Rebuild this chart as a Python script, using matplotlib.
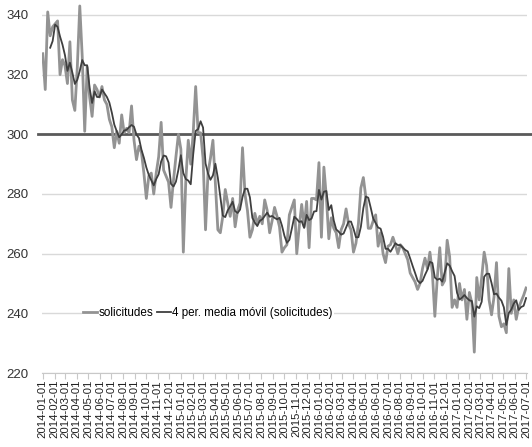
import numpy as np
import pandas as pd
import matplotlib
matplotlib.use("Agg")
import matplotlib.pyplot as plt
import matplotlib.dates as mdates

# weekly requests
solicitudes = [
    327, 315, 341, 333, 336, 337, 338, 320, 325, 323,
    317, 331, 311.5, 308, 322.5, 343, 326, 301, 322.5, 312.5,
    306, 316.5, 315, 312.5, 316, 311.5, 310, 305, 302.5, 295.5,
    301, 297, 306.5, 300.5, 302, 300.5, 309.5, 298, 291.5, 296,
    294, 287, 278.5, 286, 287, 280, 287, 292.5, 304, 288,
    286, 284, 275.5, 284.5, 292.5, 300, 295, 260.5, 284.5, 298,
    290, 300.5, 316, 300.5, 300.5, 292, 268, 287, 292, 298,
    283.5, 268, 267, 272.5, 281.5, 277, 272.5, 278.5, 269, 274.5,
    277, 295.5, 280, 274.5, 265.5, 268, 273.5, 270, 272.5, 270,
    278, 274.5, 267, 271, 275.5, 272.5, 269, 260.5, 262, 263,
    273, 275.5, 278, 260, 269, 276.5, 269, 277.5, 262, 278.5,
    278.5, 278, 290.5, 265.5, 289, 279, 265, 272, 268.5, 267,
    262, 268, 270, 275, 270, 268, 260.5, 263.5, 270, 282,
    285.5, 279, 268.5, 268.5, 271, 273, 262.5, 267, 260, 257,
    262.5, 263, 265.5, 263, 260, 263, 262, 260, 258, 253.5,
    252, 250.5, 248, 250, 255, 258.5, 255, 260.5, 253.5, 239,
    252, 262, 249.5, 251, 264.5, 259, 242, 244.5, 242, 250,
    244.5, 248, 238, 247, 243.5, 227, 252, 244.5, 252, 260.5,
    256, 244.5, 239.5, 245.5, 257, 239, 235.5, 236.5, 233.5, 255,
    240, 244.5, 238, 242, 244, 246, 248.5,
]
start_date = "2014-01-01"
end_date = "2017-07-01"
ref_level = 300

fechas = pd.date_range(start_date, end_date, periods=len(solicitudes))
serie = pd.Series(solicitudes, index=fechas)
media_movil = serie.rolling(4).mean()
month_ticks = pd.date_range(start_date, end_date, freq="MS")

fig = plt.figure(figsize=(5.32, 4.47), dpi=100)
ax = fig.add_axes([0.079, 0.1655, 0.912, 0.8345])

ax.plot(serie.index, serie.values, color="#939393", lw=2.0,
        label="solicitudes", zorder=3)
ax.plot(media_movil.index, media_movil.values, color="#3f3f3f", lw=1.3,
        label="4 per. media móvil (solicitudes)", zorder=4)
ax.axhline(ref_level, color="#5a5a5a", lw=2.0, zorder=2, clip_on=False,
           xmin=-0.008, xmax=1.01)

ax.set_ylim(220, 345)
ax.set_yticks(np.arange(220, 341, 20))
ax.set_xlim(pd.Timestamp(start_date) - pd.Timedelta(days=2),
            pd.Timestamp(end_date) + pd.Timedelta(days=3))
ax.set_xticks(month_ticks)
ax.xaxis.set_major_formatter(mdates.DateFormatter("%Y-%m-%d"))

ax.grid(axis="y", color="#d9d9d9", lw=1.0, zorder=0)
for s in ["top", "right", "left"]:
    ax.spines[s].set_visible(False)
ax.spines["bottom"].set_color("#c8c8c8")
ax.tick_params(axis="y", length=0, pad=10, labelsize=9.5, labelcolor="#333333")
ax.tick_params(axis="x", length=4, color="#c8c8c8", labelsize=8.2,
               labelcolor="#222222", labelrotation=90, pad=1)
for lab in ax.get_xticklabels() + ax.get_yticklabels():
    lab.set_family("Liberation Sans")

leg = ax.legend(loc="center", bbox_to_anchor=(0.342, 0.16), ncol=2,
                frameon=True, facecolor="white", edgecolor="none",
                framealpha=1, handlelength=1.2,
                handletextpad=0.1, columnspacing=0.3, borderpad=0.1,
                prop={"family": "Liberation Sans", "size": 8.4})
leg.set_zorder(5)

fig.savefig("out.png", dpi=100)
